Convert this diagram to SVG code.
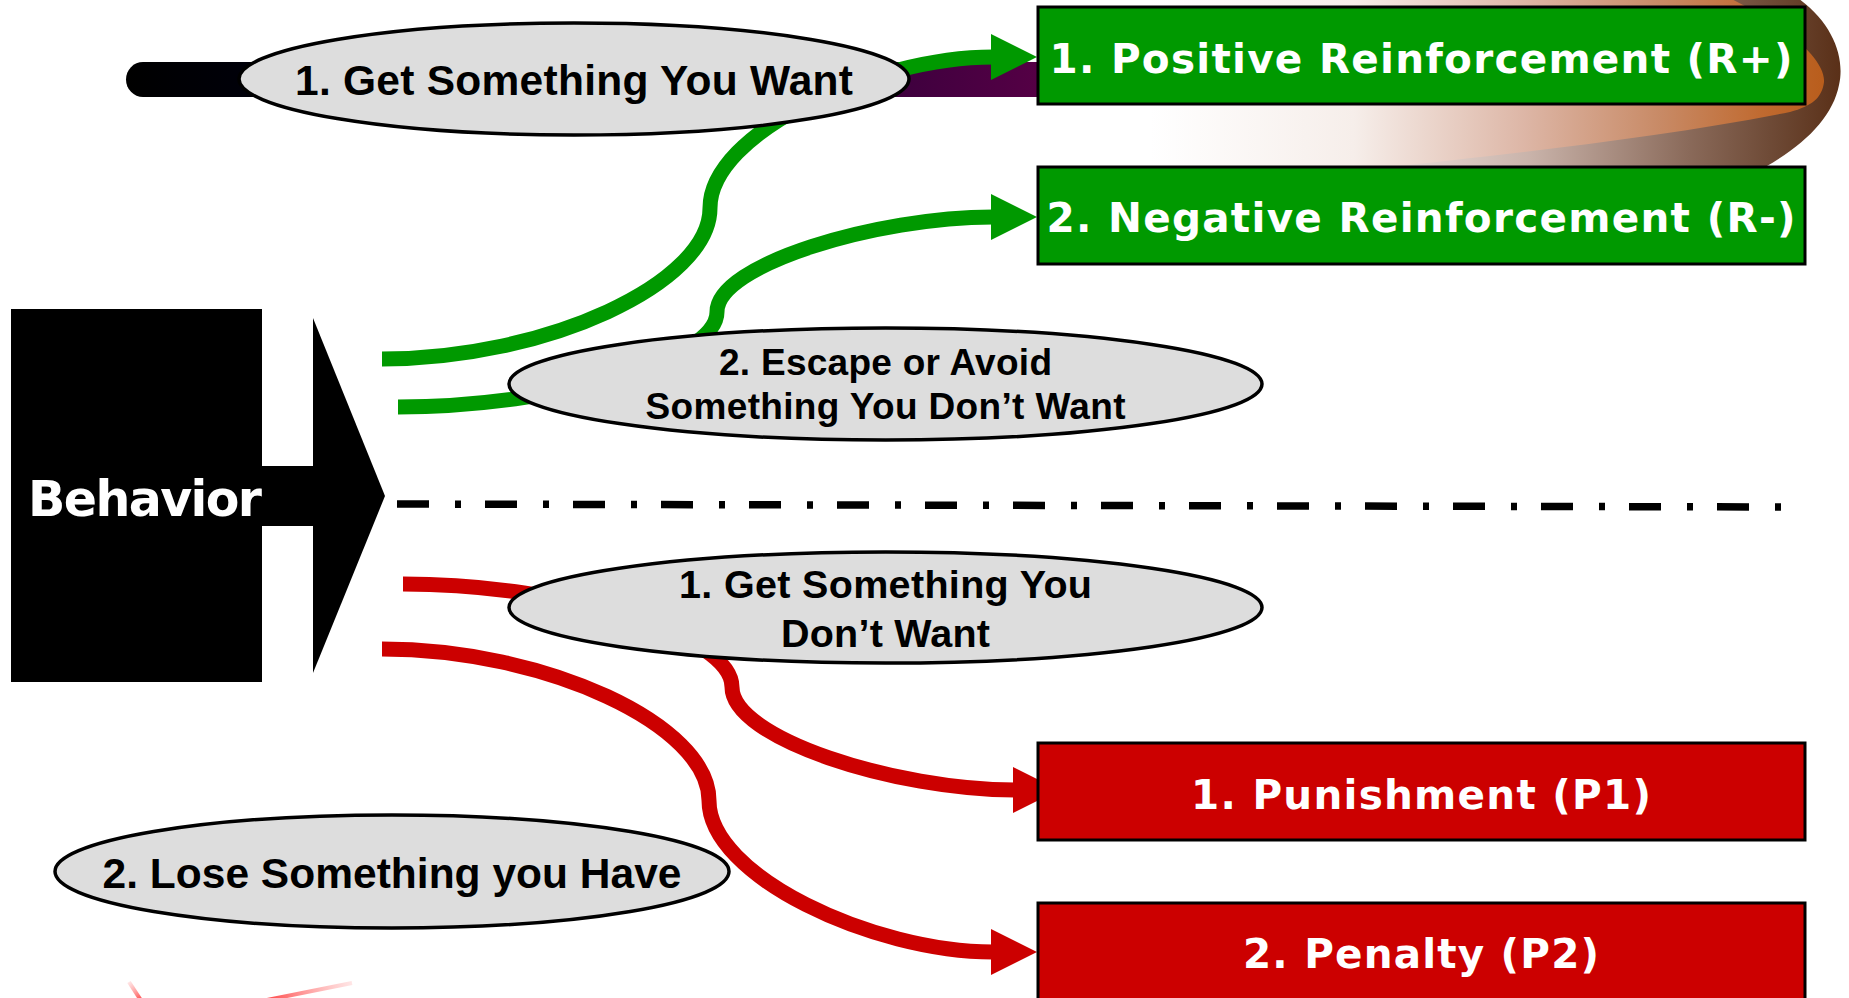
<svg xmlns="http://www.w3.org/2000/svg" width="1849" height="998" viewBox="0 0 1849 998">
  <defs>
    <style>
      .oval { fill: #dddddd; stroke: #000000; stroke-width: 3.5; }
      .oval-text { font-family: 'Liberation Sans', Arial, sans-serif; font-weight: bold; fill: #000000; text-anchor: middle; }
      .box-green { fill: #009900; stroke: #000000; stroke-width: 3; }
      .box-red { fill: #cc0000; stroke: #000000; stroke-width: 3; }
      .box-text { font-family: 'DejaVu Sans', Verdana, sans-serif; font-weight: bold; font-size: 40.5px; fill: #ffffff; text-anchor: middle; }
      .link { fill: none; stroke-width: 15; stroke-linecap: butt; }
      .link-green { stroke: #009900; marker-end: url(#headGreen); }
      .link-red { stroke: #cc0000; marker-end: url(#headRed); }
    </style>
    <marker id="headGreen" markerUnits="userSpaceOnUse" viewBox="0 0 46 46" markerWidth="46" markerHeight="46" refX="2" refY="23" orient="auto">
      <path d="M0,0 L46,23 L0,46 Z" fill="#009900"/>
    </marker>
    <marker id="headRed" markerUnits="userSpaceOnUse" viewBox="0 0 46 46" markerWidth="46" markerHeight="46" refX="2" refY="23" orient="auto">
      <path d="M0,0 L46,23 L0,46 Z" fill="#cc0000"/>
    </marker>
    <linearGradient id="barGrad" gradientUnits="userSpaceOnUse" x1="126" y1="0" x2="1040" y2="0">
      <stop offset="0" stop-color="#000000"/>
      <stop offset="0.2" stop-color="#00000e"/>
      <stop offset="0.45" stop-color="#0a0028"/>
      <stop offset="0.75" stop-color="#30003a"/>
      <stop offset="1" stop-color="#550045"/>
    </linearGradient>
    <linearGradient id="rimGrad" gradientUnits="userSpaceOnUse" x1="1150" y1="0" x2="1840" y2="0">
      <stop offset="0" stop-color="#ffffff"/>
      <stop offset="0.3" stop-color="#f2e9e6"/>
      <stop offset="0.55" stop-color="#c9b3aa"/>
      <stop offset="0.78" stop-color="#8a6a5a"/>
      <stop offset="0.9" stop-color="#6e4a36"/>
      <stop offset="1" stop-color="#5a3018"/>
    </linearGradient>
    <linearGradient id="glowGrad" gradientUnits="userSpaceOnUse" x1="1150" y1="0" x2="1830" y2="0">
      <stop offset="0" stop-color="#ffffff"/>
      <stop offset="0.3" stop-color="#f6eeea"/>
      <stop offset="0.55" stop-color="#ddb6a6"/>
      <stop offset="0.75" stop-color="#c88a66"/>
      <stop offset="0.9" stop-color="#c06a30"/>
      <stop offset="1" stop-color="#b85c1a"/>
    </linearGradient>
    <linearGradient id="streakA" gradientUnits="userSpaceOnUse" x1="129" y1="982" x2="142" y2="1000">
      <stop offset="0" stop-color="#ff8080" stop-opacity="0.2"/>
      <stop offset="1" stop-color="#ff3030" stop-opacity="0.9"/>
    </linearGradient>
    <linearGradient id="streakB" gradientUnits="userSpaceOnUse" x1="352" y1="983" x2="266" y2="1000">
      <stop offset="0" stop-color="#ff8080" stop-opacity="0.2"/>
      <stop offset="1" stop-color="#ff3030" stop-opacity="0.9"/>
    </linearGradient>
  </defs>

  <rect x="0" y="0" width="1849" height="998" fill="#ffffff"/>

  <!-- decorative swoosh, top right -->
  <g id="swoosh">
    <path d="M1120,-10 L1785,-10 C1830,15 1846,55 1839,85 C1832,120 1800,150 1750,175 L1120,175 Z" fill="url(#rimGrad)"/>
    <path d="M1120,-10 L1712,-10 C1770,15 1826,55 1824,82 C1822,98 1812,106 1790,112 C1660,138 1500,155 1380,168 L1120,175 Z" fill="url(#glowGrad)"/>
  </g>

  <!-- dark bar behind the first oval -->
  <rect id="bar" x="126" y="62" width="934" height="35" rx="17" ry="17.5" fill="url(#barGrad)"/>

  <!-- faint streaks at the lower edge -->
  <g id="streaks" fill="none" stroke-width="4">
    <line x1="129" y1="982" x2="142" y2="1002" stroke="url(#streakA)"/>
    <line x1="352" y1="983" x2="262" y2="1001" stroke="url(#streakB)"/>
  </g>

  <!-- connectors -->
  <g id="connectors">
    <path class="link link-green" d="M382,359 C546,359 710,283.5 710,208 C710,132.5 873.5,57 993,57"/>
    <path class="link link-green" d="M398,407 C557.5,407 717,359.5 717,312 C717,264.5 877,217 993,217"/>
    <path class="link link-red" d="M403,584 C567.5,584 732,635.5 732,687 C732,738.5 895.5,790 1015,790"/>
    <path class="link link-red" d="M382,649 C545.5,649 709,724.75 709,800.5 C709,876.25 873,952 993,952"/>
  </g>

  <!-- separator -->
  <path id="separator" d="M397,504 L1782,507" fill="none" stroke="#000000" stroke-width="7.5" stroke-dasharray="32 26 6 24"/>

  <!-- condition ovals -->
  <g id="get-want">
    <ellipse class="oval" cx="574" cy="79" rx="335" ry="56"/>
    <text class="oval-text" x="574" y="95" font-size="42.5" textLength="558">1. Get Something You Want</text>
  </g>
  <g id="escape-avoid">
    <ellipse class="oval" cx="885.5" cy="384" rx="376.5" ry="56"/>
    <text class="oval-text" x="885.5" y="375" font-size="37" textLength="333">2. Escape or Avoid</text>
    <text class="oval-text" x="885.5" y="419" font-size="37" textLength="480">Something You Don’t Want</text>
  </g>
  <g id="get-dont-want">
    <ellipse class="oval" cx="885.5" cy="607.5" rx="376.5" ry="55.5"/>
    <text class="oval-text" x="885.5" y="598" font-size="39.5" textLength="413">1. Get Something You</text>
    <text class="oval-text" x="885.5" y="647" font-size="39.5" textLength="209">Don’t Want</text>
  </g>
  <g id="lose-have">
    <ellipse class="oval" cx="392" cy="871.5" rx="337" ry="56.5"/>
    <text class="oval-text" x="392" y="888" font-size="42.5" textLength="579">2. Lose Something you Have</text>
  </g>

  <!-- outcome boxes -->
  <g id="positive-reinforcement">
    <rect class="box-green" x="1038" y="7" width="767" height="97"/>
    <text class="box-text" x="1421" y="73" textLength="743">1. Positive Reinforcement (R+)</text>
  </g>
  <g id="negative-reinforcement">
    <rect class="box-green" x="1038" y="167" width="767" height="97"/>
    <text class="box-text" x="1421" y="232" textLength="749">2. Negative Reinforcement (R-)</text>
  </g>
  <g id="punishment">
    <rect class="box-red" x="1038" y="743" width="767" height="97"/>
    <text class="box-text" x="1421" y="809" textLength="460">1. Punishment (P1)</text>
  </g>
  <g id="penalty">
    <rect class="box-red" x="1038" y="903" width="767" height="110"/>
    <text class="box-text" x="1421" y="968" textLength="356">2. Penalty (P2)</text>
  </g>

  <!-- behavior block with arrow -->
  <g id="behavior">
    <rect x="11" y="309" width="251" height="373" fill="#000000"/>
    <rect x="261" y="466" width="53" height="60" fill="#000000"/>
    <polygon points="313,318 385,496 313,673" fill="#000000"/>
    <text x="145" y="516" font-family="'DejaVu Sans', Verdana, sans-serif" font-weight="bold" font-size="49" fill="#ffffff" text-anchor="middle" textLength="234">Behavior</text>
  </g>
</svg>
